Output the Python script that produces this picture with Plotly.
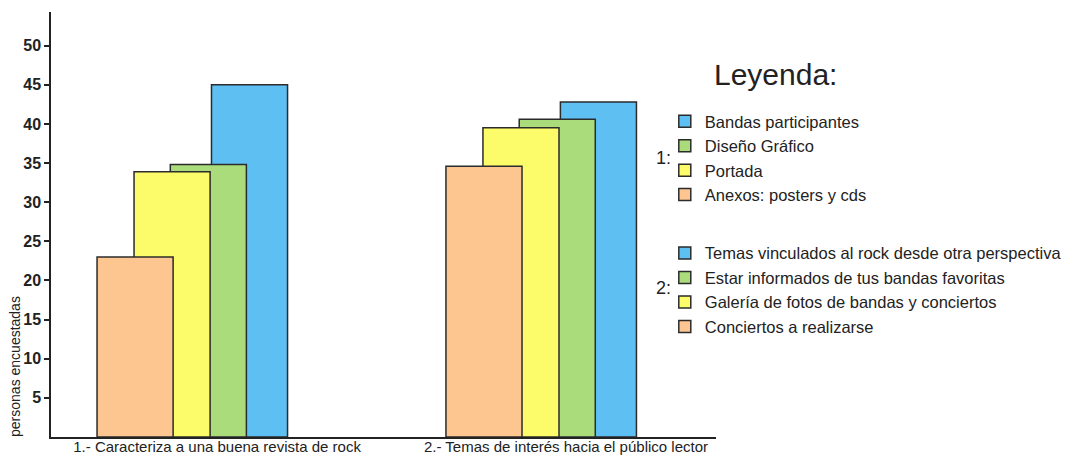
import plotly.graph_objects as go

categories = ["1.- Caracteriza a una buena revista de rock",
              "2.- Temas de interés hacia el público lector"]

# group 1 series (drawn back to front: blue, green, yellow, orange)
g1_labels = ["Bandas participantes", "Diseño Gráfico", "Portada", "Anexos: posters y cds"]
g1_values = [45.0, 34.8, 33.9, 23.0]

g2_labels = ["Temas vinculados al rock desde otra perspectiva",
             "Estar informados de tus bandas favoritas",
             "Galería de fotos de bandas y conciertos",
             "Conciertos a realizarse"]
g2_values = [42.8, 40.6, 39.5, 34.6]

colors = ["#5EBFF2", "#ABDC7B", "#FCFC6A", "#FDC690"]
offsets = [-0.016, -0.134, -0.238, -0.344]
bar_width = 0.218

y_ticks = [5, 10, 15, 20, 25, 30, 35, 40, 45, 50]

FONT = "Liberation Sans, Arial, sans-serif"

fig = go.Figure()
for gi, (cat, labels, values) in enumerate([(categories[0], g1_labels, g1_values),
                                             (categories[1], g2_labels, g2_values)]):
    for i in range(4):
        fig.add_trace(go.Bar(
            x=[cat], y=[values[i]], name=labels[i],
            offset=offsets[i], width=bar_width,
            marker=dict(color=colors[i], line=dict(color="#2b2b2b", width=1.5)),
            legendgroup="g%d" % (gi + 1),
            hoverinfo="name+y",
        ))

# the page body adds an 8px margin, so the figure is 8px smaller on each axis
fig.update_layout(
    width=1061, height=447,
    margin=dict(l=43, r=353, t=4, b=18, autoexpand=False),
    barmode="overlay",
    plot_bgcolor="white", paper_bgcolor="white",
    font=dict(family=FONT, color="#222222"),
    showlegend=True,
    legend=dict(
        x=0.923, xanchor="left", y=0.7835, yanchor="top",
        font=dict(family=FONT, size=16.5, color="#222222"),
        traceorder="grouped", tracegroupgap=34,
        bgcolor="rgba(0,0,0,0)", borderwidth=0,
    ),
    xaxis=dict(
        type="category", range=[-0.476, 1.43], automargin=False,
        showline=True, linecolor="#222222", linewidth=1.5,
        ticks="", showgrid=False, zeroline=False,
        ticklabelstandoff=-5,
        tickfont=dict(family=FONT, size=15, color="#222222"),
    ),
    yaxis=dict(
        range=[0, 54.3], tickvals=y_ticks, automargin=False,
        showline=True, linecolor="#222222", linewidth=1.5,
        ticks="outside", ticklen=5, tickcolor="#222222", tickwidth=1.5,
        showgrid=False, zeroline=False,
        tickfont=dict(family=FONT, size=16, color="#222222", weight="bold"),
    ),
    annotations=[
        dict(text="personas encuestadas", xref="paper", yref="paper",
             x=-0.054, y=0.165, xanchor="center", yanchor="middle",
             textangle=-90, showarrow=False,
             font=dict(family=FONT, size=14, color="#222222")),
        dict(text="Leyenda:", xref="paper", yref="paper",
             x=1.0, y=(437 - 75) / 425, xanchor="left", yanchor="middle", xshift=-4, showarrow=False,
             font=dict(family=FONT, size=30, color="#222222")),
        dict(text="1:", xref="paper", yref="paper",
             x=(663 - 51) / 665, y=(437 - 158) / 425, xanchor="center", yanchor="middle", showarrow=False,
             font=dict(family=FONT, size=18, color="#222222")),
        dict(text="2:", xref="paper", yref="paper",
             x=(663 - 51) / 665, y=(437 - 288) / 425, xanchor="center", yanchor="middle", showarrow=False,
             font=dict(family=FONT, size=18, color="#222222")),
    ],
)

fig.write_html("out.html")
